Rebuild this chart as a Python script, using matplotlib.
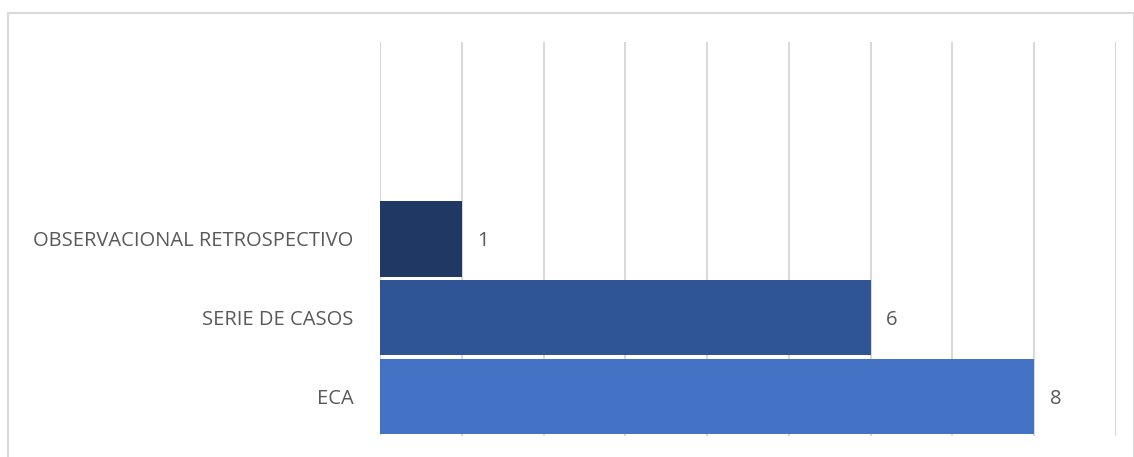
import matplotlib
matplotlib.use("Agg")
import matplotlib.pyplot as plt
from matplotlib.patches import Rectangle

# data (bottom to top, as drawn)
categories = ["ECA", "SERIE DE CASOS", "OBSERVACIONAL RETROSPECTIVO"]
values = [8, 6, 1]
colors = ["#4472C4", "#2F5597", "#1F3864"]
n_slots = 5  # chart keeps two empty category slots on top

plt.rcParams['font.family'] = ['Open Sans', 'DejaVu Sans']
text_color = "#595959"

W, H = 1134, 457
fig = plt.figure(figsize=(W / 100, H / 100), dpi=100)
ax = fig.add_axes([380 / W, 21 / H, (1116 - 380) / W, (436 - 42) / H])

ypos = list(range(len(categories)))
ax.barh(ypos, values, height=0.955, color=colors, zorder=3)

for y, v in zip(ypos, values):
    ax.text(v + 0.19, y - 0.03, str(v), va="center", ha="left", fontsize=14.5, color=text_color)

ax.set_xlim(0, 9)
ax.set_ylim(-0.5, n_slots - 0.5)
ax.set_xticks(range(0, 10))
ax.xaxis.grid(True, color="#d9d9d9", linewidth=1.5, zorder=0)
ax.set_xticklabels([])
ax.tick_params(axis="x", length=0)
ax.set_yticks(ypos)
ax.set_yticklabels(categories, fontsize=14.5, color=text_color)
ax.tick_params(axis="y", length=0, pad=19)
for s in ax.spines.values():
    s.set_visible(False)

# outer chart border
fig.patches.append(Rectangle((8 / W, -0.01), (W - 8) / W, (H - 13) / H + 0.01,
                             transform=fig.transFigure, fill=False,
                             edgecolor="#d9d9d9", linewidth=1.5))

fig.savefig("out.png", dpi=100)
